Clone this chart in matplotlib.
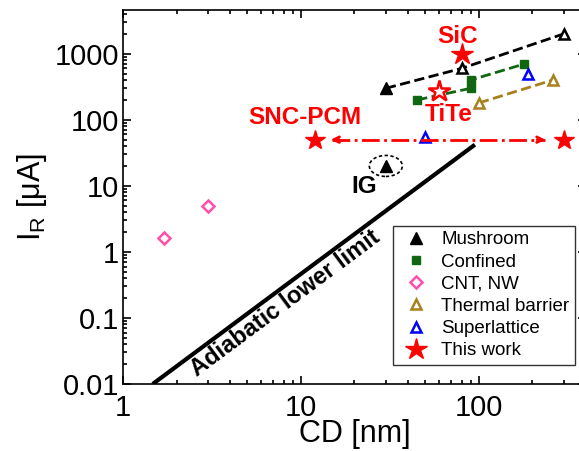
import matplotlib
matplotlib.use("Agg")
import matplotlib.pyplot as plt
import matplotlib.transforms as mtransforms
from matplotlib.patches import Ellipse
from matplotlib.ticker import FixedLocator, NullFormatter, LogLocator

plt.rcParams['font.family'] = ['Liberation Sans', 'DejaVu Sans']

# data
mush_x = [30, 80, 300]
mush_y = [300, 600, 2000]
ig_x, ig_y = 30, 20
conf_x = [45, 90, 90, 180]
conf_y = [200, 300, 400, 700]
cnt_x = [1.7, 3]
cnt_y = [1.6, 5]
tb_x = [100, 260]
tb_y = [180, 400]
sl_x = [50, 190]
sl_y = [55, 500]
sic = (80, 1000)
tite = (60, 270)
snc_x = [12, 300]
snc_y = [50, 50]
adia_x = [1.47, 95]
adia_y = [0.01, 42]

red = '#ff0000'
green = '#116611'
pink = '#ff4faa'
brown = '#a8801e'
blue = '#0000ff'

fig = plt.figure(figsize=(5.79, 4.51), dpi=100)
ax = fig.add_axes([0.2124, 0.1486, 0.7997, 0.8293])
ax.set_xscale('log')
ax.set_yscale('log')

# adiabatic limit
ax.plot(adia_x, adia_y, color='black', lw=3, solid_capstyle='butt')
ax.text(8.2, 0.165, 'Adiabatic lower limit', rotation=36.6, fontsize=17,
        fontweight='bold', ha='center', va='center', rotation_mode='anchor')

# trend lines
ax.plot(mush_x, mush_y, '--', color='black', lw=2)
ax.plot(conf_x, conf_y, '--', color=green, lw=2)
ax.plot(tb_x, tb_y, '--', color=brown, lw=2)

# markers
ax.plot(mush_x[0], mush_y[0], '^', color='black', ms=8, label='Mushroom')
ax.plot(mush_x[1:], mush_y[1:], '^', mfc='white', mec='black', mew=1.8, ms=7)
ax.plot(ig_x, ig_y, '^', color='black', ms=8)
ax.plot(conf_x, conf_y, 's', color=green, ms=6, ls='none', label='Confined')
ax.plot(cnt_x, cnt_y, 'D', mfc='white', mec=pink, mew=1.8, ms=6, ls='none', label='CNT, NW')
ax.plot(tb_x, tb_y, '^', mfc='white', mec=brown, mew=1.8, ms=7, ls='none', label='Thermal barrier')
ax.plot(sl_x, sl_y, '^', mfc='white', mec=blue, mew=1.8, ms=7, ls='none', label='Superlattice')
ax.plot(*sic, '*', color=red, ms=16, label='This work')
ax.plot(*tite, '*', mfc='white', mec=red, mew=1.8, ms=16)
ax.plot(snc_x, snc_y, '*', color=red, ms=15, ls='none')

# double arrow
ax.plot([15, 235], snc_y, '-.', color=red, lw=2)
ax.annotate('', xy=(14.2, 50), xytext=(17, 50),
            arrowprops=dict(arrowstyle='->', color=red, lw=2))
ax.annotate('', xy=(245, 50), xytext=(205, 50),
            arrowprops=dict(arrowstyle='->', color=red, lw=2))

# IG ellipse
trans = fig.dpi_scale_trans + mtransforms.ScaledTranslation(ig_x, ig_y, ax.transData)
ax.add_patch(Ellipse((0, 0), 0.33, 0.21, transform=trans, fill=False,
                     ls=(0, (2, 1.5)), lw=1.2, color='black'))

ax.text(76, 1850, 'SiC', color=red, fontsize=17.5, fontweight='bold', ha='center', va='center')
ax.text(68, 120, 'TiTe', color=red, fontsize=17.5, fontweight='bold', ha='center', va='center')
ax.text(10.5, 110, 'SNC-PCM', color=red, fontsize=17.5, fontweight='bold', ha='center', va='center')
ax.text(22.8, 9.8, 'IG', color='black', fontsize=17.5, fontweight='bold', ha='center', va='center')

ax.set_xlim(1, 400)
ax.set_ylim(0.01, 4600)
ax.xaxis.set_major_locator(FixedLocator([1, 10, 100]))
ax.set_xticklabels(['1', '10', '100'])
ax.yaxis.set_major_locator(FixedLocator([0.01, 0.1, 1, 10, 100, 1000]))
ax.set_yticklabels(['0.01', '0.1', '1', '10', '100', '1000'])
ax.xaxis.set_minor_locator(LogLocator(subs=range(2, 10), numticks=20))
ax.yaxis.set_minor_locator(LogLocator(subs=range(2, 10), numticks=20))
ax.xaxis.set_minor_formatter(NullFormatter())
ax.yaxis.set_minor_formatter(NullFormatter())
ax.tick_params(which='both', direction='in', top=True, right=True, labelsize=21, width=1.2)
ax.tick_params(which='major', length=6)
ax.tick_params(which='minor', length=3)
ax.tick_params(axis='y', which='major', pad=3)
ax.tick_params(axis='x', which='major', pad=7)
for s in ax.spines.values():
    s.set_linewidth(1.2)

ax.set_xlabel('CD [nm]', fontsize=22, labelpad=-2)
ax.set_ylabel(r'I$_\mathregular{R}$ [$\mathregular{\mu}$A]', fontsize=22, labelpad=4)

leg = ax.legend(loc='lower right', bbox_to_anchor=(0.976, 0.051), fontsize=13.5,
                frameon=True, fancybox=False, edgecolor='black', handlelength=1.8,
                handletextpad=0.45, borderaxespad=0.0, borderpad=0.3,
                labelspacing=0.27, numpoints=1)
leg.get_frame().set_linewidth(1)

fig.savefig('out.png', dpi=100)
